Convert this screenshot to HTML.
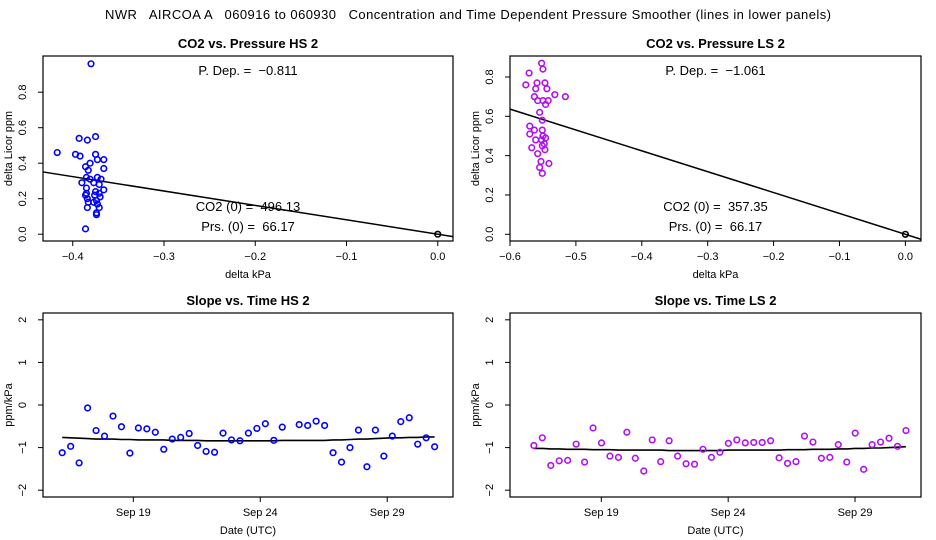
<!DOCTYPE html>
<html><head><meta charset="utf-8"><style>
body{margin:0;background:#fff}
svg{display:block;font-family:"Liberation Sans",sans-serif}
text{white-space:pre}
</style></head><body>
<svg id="c" width="936" height="540" viewBox="0 0 936 540">
<text x="468" y="19" font-size="13" text-anchor="middle" textLength="726" xml:space="preserve">NWR   AIRCOA A   060916 to 060930   Concentration and Time Dependent Pressure Smoother (lines in lower panels)</text>
</svg>
<script>
// ---- data ----
const hsPressX=[-0.380,-0.417,-0.397,-0.392,-0.393,-0.384,-0.375,-0.375,-0.373,-0.366,-0.366,-0.381,-0.386,-0.383,-0.385,-0.373,-0.369,-0.381,-0.390,-0.377,-0.371,-0.385,-0.375,-0.366,-0.371,-0.385,-0.386,-0.376,-0.370,-0.384,-0.374,-0.377,-0.383,-0.373,-0.384,-0.371,-0.374,-0.374,-0.386];
const hsCO2Y=[0.96,0.46,0.45,0.44,0.54,0.53,0.55,0.45,0.42,0.42,0.37,0.40,0.38,0.36,0.32,0.32,0.31,0.31,0.29,0.29,0.28,0.26,0.24,0.25,0.23,0.23,0.22,0.22,0.21,0.20,0.19,0.18,0.18,0.17,0.15,0.15,0.12,0.11,0.03];
const lsPressX=[-0.552,-0.550,-0.571,-0.576,-0.559,-0.547,-0.561,-0.544,-0.532,-0.516,-0.563,-0.558,-0.550,-0.542,-0.546,-0.555,-0.551,-0.570,-0.563,-0.570,-0.551,-0.550,-0.546,-0.552,-0.561,-0.548,-0.551,-0.567,-0.547,-0.558,-0.553,-0.541,-0.555,-0.551];
const lsCO2Y=[0.87,0.84,0.82,0.76,0.77,0.77,0.74,0.74,0.71,0.70,0.70,0.68,0.68,0.68,0.66,0.62,0.58,0.55,0.53,0.51,0.53,0.50,0.49,0.48,0.48,0.46,0.45,0.44,0.43,0.41,0.37,0.36,0.34,0.31];
const hsSlope=-0.811, lsSlope=-1.061;
const hsStats=["P. Dep. =  \u22120.811","CO2 (0) =  496.13","Prs. (0) =  66.17"];
const lsStats=["P. Dep. =  \u22121.061","CO2 (0) =  357.35","Prs. (0) =  66.17"];
const hsTimeStart=-2.8, lsTimeStart=-2.66, timeStep=1/3; // days relative to Sep 19
const hsTimeY=[-1.12,-0.97,-1.36,-0.07,-0.60,-0.73,-0.26,-0.51,-1.13,-0.54,-0.56,-0.64,-1.04,-0.80,-0.76,-0.67,-0.95,-1.09,-1.11,-0.66,-0.82,-0.84,-0.66,-0.55,-0.44,-0.83,-0.52,null,-0.46,-0.48,-0.38,-0.48,-1.12,-1.34,-1.00,-0.59,-1.45,-0.59,-1.20,-0.73,-0.39,-0.30,-0.92,-0.77,-0.98];
const hsSmooth=[-0.76,-0.77,-0.78,-0.79,-0.80,-0.80,-0.80,-0.81,-0.81,-0.82,-0.82,-0.82,-0.82,-0.83,-0.83,-0.83,-0.83,-0.84,-0.84,-0.84,-0.84,-0.84,-0.84,-0.84,-0.84,-0.84,-0.83,-0.83,-0.83,-0.83,-0.83,-0.83,-0.82,-0.82,-0.81,-0.80,-0.80,-0.79,-0.78,-0.77,-0.77,-0.76,-0.76,-0.75,-0.75];
const lsTimeY=[-0.95,-0.77,-1.42,-1.31,-1.30,-0.92,-1.34,-0.54,-0.89,-1.20,-1.23,-0.64,-1.25,-1.55,-0.82,-1.33,-0.84,-1.20,-1.38,-1.39,-1.04,-1.23,-1.11,-0.90,-0.82,-0.89,-0.88,-0.88,-0.84,-1.24,-1.37,-1.33,-0.73,-0.87,-1.25,-1.23,-0.93,-1.34,-0.66,-1.51,-0.93,-0.87,-0.78,-0.97,-0.60];
const lsSmooth=[-1.02,-1.02,-1.03,-1.03,-1.04,-1.04,-1.04,-1.05,-1.05,-1.05,-1.06,-1.06,-1.06,-1.06,-1.06,-1.06,-1.07,-1.07,-1.07,-1.07,-1.07,-1.07,-1.07,-1.06,-1.06,-1.06,-1.06,-1.06,-1.06,-1.06,-1.05,-1.05,-1.05,-1.04,-1.04,-1.04,-1.03,-1.03,-1.02,-1.02,-1.01,-1.01,-1.00,-0.99,-0.98];
const xTicksHS=[-0.4,-0.3,-0.2,-0.1,0.0];
const xTicksLS=[-0.6,-0.5,-0.4,-0.3,-0.2,-0.1,0.0];
const yTicksHS=[0.0,0.2,0.4,0.6,0.8];
const yTicksLS=[0.0,0.2,0.4,0.6,0.8];
const yTicksTime=[-2,-1,0,1,2];
const dateTicks=[0,5,10];
const dateLabels=["Sep 19","Sep 24","Sep 29"];

const svg=document.getElementById('c');
const NS='http://www.w3.org/2000/svg';
function mk(tag,attrs,parent){const e=document.createElementNS(NS,tag);for(const k in attrs)e.setAttribute(k,attrs[k]);(parent||svg).appendChild(e);return e;}
function fmt(v,d){const s=Math.abs(v).toFixed(d);return (v<0?'\u2212':'')+s;}

function panel(o){
  const g=mk('g',{});
  
  
  const sx=v=>o.L+(v-o.x0)/(o.x1-o.x0)*(o.R-o.L);
  const sy=v=>o.B-(v-o.y0)/(o.y1-o.y0)*(o.B-o.T);
  const t=mk('text',{x:(o.L+o.R)/2,y:o.T-8,'font-size':13,'font-weight':'bold','text-anchor':'middle'},g);
  t.textContent=o.title;
  
  
  const box=mk('rect',{x:o.L,y:o.T,width:o.R-o.L,height:o.B-o.T,fill:'none',stroke:'#000','stroke-width':1.2},g);
  
  
  const xa=mk('g',{},g);
  
  
  const xt0=sx(o.xTicks[0]),xt1=sx(o.xTicks[o.xTicks.length-1]);
  mk('line',{x1:xt0,x2:xt1,y1:o.B,y2:o.B,stroke:'#000'},xa);
  o.xTicks.forEach((v,i)=>{
    const x=sx(v);
    mk('line',{x1:x,x2:x,y1:o.B,y2:o.B+5,stroke:'#000'},xa);
    const l=mk('text',{x:x,y:o.B+19,'font-size':11,'text-anchor':'middle'},xa);
    l.textContent=o.xLabels?o.xLabels[i]:fmt(v,1);
    
    
  });
  const xl=mk('text',{x:(o.L+o.R)/2,y:o.B+37,'font-size':11,'text-anchor':'middle'},g);
  xl.textContent=o.xTitle;
  
  
  const ya=mk('g',{},g);
  
  
  mk('line',{x1:o.L,x2:o.L,y1:sy(o.yTicks[0]),y2:sy(o.yTicks[o.yTicks.length-1]),stroke:'#000'},ya);
  o.yTicks.forEach(v=>{
    const y=sy(v);
    mk('line',{x1:o.L-5,x2:o.L,y1:y,y2:y,stroke:'#000'},ya);
    const l=mk('text',{x:0,y:0,'font-size':11,'text-anchor':'middle',transform:`translate(${o.L-17},${y}) rotate(-90)`},ya);
    l.textContent=o.yDec?fmt(v,1):fmt(v,0);
    
    
  });
  const yl=mk('text',{x:0,y:0,'font-size':11,'text-anchor':'middle',transform:`translate(${o.L-31},${(o.T+o.B)/2}) rotate(-90)`},g);
  yl.textContent=o.yTitle;
  
  
  return {g,sx,sy};
}
function pts(p,xs,ys,color,name){
  xs.forEach((x,i)=>{
    if(ys[i]==null)return;
    const c=mk('circle',{cx:p.sx(x),cy:p.sy(ys[i]),r:2.8,fill:'none',stroke:color,'stroke-width':1.6},p.g);
    
    
  });
}
function stats(p,o,lines){
  const cx=(o.L+o.R)/2;
  [[o.T+19,0],[o.B-30,1],[o.B-10,2]].forEach(([y,i])=>{
    const t=mk('text',{x:cx,y:y,'font-size':13,'text-anchor':'middle'},p.g);
    t.textContent=lines[i];
    
    
  });
}

const o1={name:'panel-co2-pressure-hs',title:'CO2 vs. Pressure HS 2',L:43,R:453,T:56,B:241,x0:-0.4326,x1:0.0167,y0:-0.0383,y1:1.004,xTicks:xTicksHS,yTicks:yTicksHS,yDec:true,xTitle:'delta kPa',yTitle:'delta Licor ppm'};
const p1=panel(o1);
let ln=mk('line',{x1:p1.sx(o1.x0),y1:p1.sy(hsSlope*o1.x0),x2:p1.sx(o1.x1),y2:p1.sy(hsSlope*o1.x1),stroke:'#000','stroke-width':1.5},p1.g);


pts(p1,hsPressX,hsCO2Y,'#0000ff','co2-point');
pts(p1,[0],[0],'#000','origin-point');
stats(p1,o1,hsStats);

const o2={name:'panel-co2-pressure-ls',title:'CO2 vs. Pressure LS 2',L:510,R:921,T:56,B:241,x0:-0.6,x1:0.0237,y0:-0.0341,y1:0.9067,xTicks:xTicksLS,yTicks:yTicksLS,yDec:true,xTitle:'delta kPa',yTitle:'delta Licor ppm'};
const p2=panel(o2);
ln=mk('line',{x1:p2.sx(o2.x0),y1:p2.sy(lsSlope*o2.x0),x2:p2.sx(o2.x1),y2:p2.sy(lsSlope*o2.x1),stroke:'#000','stroke-width':1.5},p2.g);


pts(p2,lsPressX,lsCO2Y,'#b010f0','co2-point');
pts(p2,[0],[0],'#000','origin-point');
stats(p2,o2,lsStats);

function timePanel(name,title,L,R,d0,d1,start,ys,sm,color){
  const o={name,title,L,R,T:313,B:497,x0:d0,x1:d1,y0:-2.16,y1:2.16,xTicks:dateTicks,xLabels:dateLabels,yTicks:yTicksTime,yDec:false,xTitle:'Date (UTC)',yTitle:'ppm/kPa'};
  const p=panel(o);
  const xs=ys.map((_,i)=>start+i*timeStep);
  const d=sm.map((v,i)=>(i?'L':'M')+p.sx(xs[i]).toFixed(1)+','+p.sy(v).toFixed(1)).join(' ');
  const s=mk('path',{d,fill:'none',stroke:'#000','stroke-width':1.6},p.g);
  
  
  pts(p,xs,ys,color,'slope-point');
}
timePanel('panel-slope-time-hs','Slope vs. Time HS 2',43,453,-3.556,12.59,hsTimeStart,hsTimeY,hsSmooth,'#0000ff');
timePanel('panel-slope-time-ls','Slope vs. Time LS 2',510,921,-3.6,12.6,lsTimeStart,lsTimeY,lsSmooth,'#b010f0');
</script>
</body></html>
